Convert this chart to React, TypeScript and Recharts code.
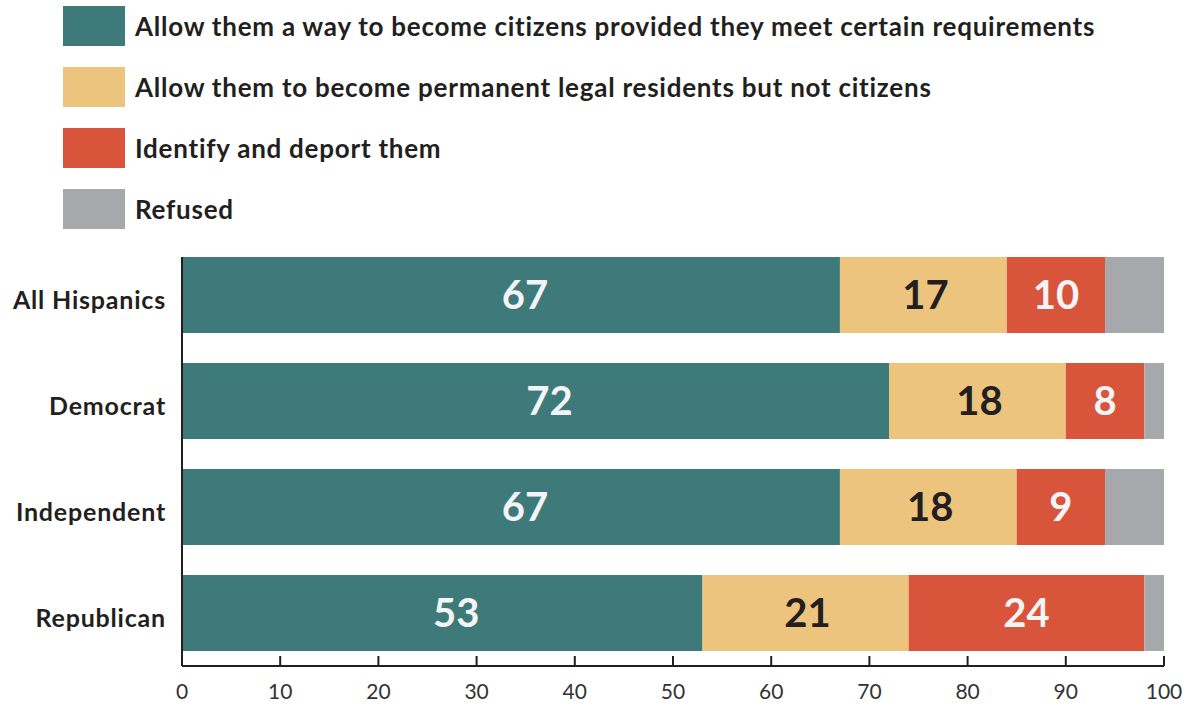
import { BarChart, Bar, XAxis, YAxis, LabelList } from 'recharts'

const categories = ['All Hispanics', 'Democrat', 'Independent', 'Republican']
const citizens = [67, 72, 67, 53]
const residents = [17, 18, 18, 21]
const deport = [10, 8, 9, 24]
const refused = [6, 2, 6, 2]
const xTicks = [0, 10, 20, 30, 40, 50, 60, 70, 80, 90, 100]

const SERIES = [
  { key: 'citizens', name: 'Allow them a way to become citizens provided they meet certain requirements', color: '#3e7a79', label: '#f3f4f5', dx: 14 },
  { key: 'residents', name: 'Allow them to become permanent legal residents but not citizens', color: '#ecc47d', label: '#231f20', dx: 2 },
  { key: 'deport', name: 'Identify and deport them', color: '#d8553c', label: '#f3f4f5', dx: 0 },
  { key: 'refused', name: 'Refused', color: '#a7a8ab', label: null, dx: 0 },
]

const data = categories.map((name, i) => ({
  name,
  citizens: citizens[i],
  residents: residents[i],
  deport: deport[i],
  refused: refused[i],
}))

const FONT = 'Lato, "DejaVu Sans", sans-serif'

export default function App() {
  return (
    <div style={{ position: 'absolute', left: 0, top: 0, width: 1191, height: 707, background: '#fff', fontFamily: FONT }}>
      <div style={{ position: 'absolute', left: 63, top: 6 }}>
        {SERIES.map((s) => (
          <div key={s.key} style={{ display: 'flex', alignItems: 'center', height: 40, marginBottom: 21 }}>
            <div style={{ width: 62, height: 40, background: s.color }} />
            <span style={{ marginLeft: 10, fontSize: 26, fontWeight: 700, letterSpacing: 0.75, color: '#231f20', whiteSpace: 'nowrap' }}>{s.name}</span>
          </div>
        ))}
      </div>
      <div style={{ position: 'absolute', left: 0, top: 0 }}>
        <BarChart
          width={1191}
          height={707}
          data={data}
          layout="vertical"
          margin={{ top: 257, right: 27, bottom: 0, left: 0 }}
        >
          <XAxis
            type="number"
            domain={[0, 100]}
            ticks={xTicks}
            height={41}
            axisLine={{ stroke: '#231f20', strokeWidth: 2 }}
            tickLine={{ stroke: '#231f20', strokeWidth: 2 }}
            tickSize={-10}
            tickMargin={28}
            tick={{ fontSize: 21, fill: '#333', fontFamily: FONT }}
            interval={0}
          />
          <YAxis
            type="category"
            dataKey="name"
            width={182}
            padding={{ top: -15, bottom: 0 }}
            axisLine={{ stroke: '#231f20', strokeWidth: 2 }}
            tickLine={false}
            tickSize={0}
            tickMargin={16}
            dy={5}
            tick={{ fontSize: 25, fontWeight: 700, letterSpacing: 0.8, fill: '#231f20', fontFamily: FONT }}
          />
          {SERIES.map((s) => (
            <Bar key={s.key} dataKey={s.key} stackId="a" fill={s.color} barSize={76} isAnimationActive={false}>
              {s.label && (
                <LabelList
                  dataKey={s.key}
                  position="center"
                  fill={s.label}
                  dx={s.dx}
                  style={{ fontSize: 40, fontWeight: 700, fontFamily: FONT }}
                />
              )}
            </Bar>
          ))}
        </BarChart>
      </div>
    </div>
  )
}
